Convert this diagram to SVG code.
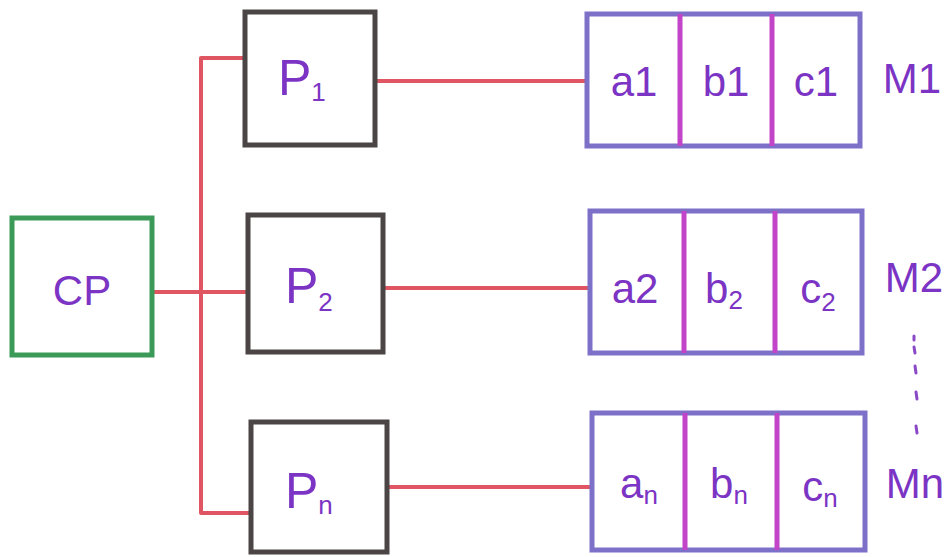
<svg xmlns="http://www.w3.org/2000/svg" width="947" height="557" viewBox="0 0 947 557">
  <style>
    .cp { fill: none; stroke: #3b9a58; stroke-width: 5; }
    .proc { fill: none; stroke: #4b4545; stroke-width: 5; }
    .mem { fill: none; stroke: #7d70c8; stroke-width: 5; }
    .div { stroke: #c244c8; stroke-width: 5; }
    .wire { fill: none; stroke: #e05562; stroke-width: 4; stroke-linecap: round; stroke-linejoin: round; }
    .lbl { font-family: "Liberation Sans", Arial, sans-serif; fill: #7b34c4; }
    .big { font-size: 42px; }
    .pl { font-size: 50px; }
    .cell { font-size: 42px; }
    .sub { font-size: 26px; }
    .dot { stroke: #8a4ac8; stroke-width: 3; stroke-linecap: round; }
  </style>

  <rect width="947" height="557" fill="#ffffff"/>

  <!-- connectors -->
  <g id="connectors">
    <path class="wire" d="M245 58 H201 V513 H251"/>
    <path class="wire" d="M152 292 H248"/>
    <path class="wire" d="M375 81 H587"/>
    <path class="wire" d="M383 288 H590"/>
    <path class="wire" d="M387 487 H592"/>
  </g>

  <!-- control processor -->
  <g id="cp">
    <rect class="cp" x="12" y="218" width="140" height="137"/>
    <text class="lbl big" x="82" y="305" text-anchor="middle">CP</text>
  </g>

  <!-- processors -->
  <g id="p1">
    <rect class="proc" x="245" y="12" width="130" height="133"/>
    <text class="lbl pl" x="278" y="95">P<tspan class="sub" dy="6">1</tspan></text>
  </g>
  <g id="p2">
    <rect class="proc" x="248" y="215" width="135" height="137"/>
    <text class="lbl pl" x="285" y="303">P<tspan class="sub" dy="8">2</tspan></text>
  </g>
  <g id="pn">
    <rect class="proc" x="251" y="422" width="136" height="130"/>
    <text class="lbl pl" x="285" y="508">P<tspan class="sub" dy="6">n</tspan></text>
  </g>

  <!-- memory modules -->
  <g id="m1">
    <rect class="mem" x="587" y="14" width="273" height="132"/>
    <line class="div" x1="680" y1="14" x2="680" y2="146"/>
    <line class="div" x1="772" y1="14" x2="772" y2="146"/>
    <text class="lbl cell" x="634" y="96" text-anchor="middle">a1</text>
    <text class="lbl cell" x="726" y="96" text-anchor="middle">b1</text>
    <text class="lbl cell" x="816" y="96" text-anchor="middle">c1</text>
    <text class="lbl big" x="912" y="93" text-anchor="middle">M1</text>
  </g>
  <g id="m2">
    <rect class="mem" x="590" y="211" width="272" height="142"/>
    <line class="div" x1="684" y1="211" x2="684" y2="353"/>
    <line class="div" x1="775" y1="211" x2="775" y2="353"/>
    <text class="lbl cell" x="635" y="303" text-anchor="middle">a2</text>
    <text class="lbl cell" x="724" y="303" text-anchor="middle">b<tspan class="sub" dy="6">2</tspan></text>
    <text class="lbl cell" x="818" y="303" text-anchor="middle">c<tspan class="sub" dy="8">2</tspan></text>
    <text class="lbl big" x="914" y="292" text-anchor="middle">M2</text>
  </g>
  <g id="mn">
    <rect class="mem" x="592" y="413" width="273" height="137"/>
    <line class="div" x1="685" y1="413" x2="685" y2="550"/>
    <line class="div" x1="777" y1="413" x2="777" y2="550"/>
    <text class="lbl cell" x="639" y="498" text-anchor="middle">a<tspan class="sub" dy="6">n</tspan></text>
    <text class="lbl cell" x="729" y="498" text-anchor="middle">b<tspan class="sub" dy="6">n</tspan></text>
    <text class="lbl cell" x="820" y="501" text-anchor="middle">c<tspan class="sub" dy="6">n</tspan></text>
    <text class="lbl big" x="915" y="498" text-anchor="middle">Mn</text>
  </g>

  <!-- ellipsis between M2 and Mn -->
  <g id="ellipsis">
    <line class="dot" x1="914" y1="336" x2="914" y2="340"/>
    <line class="dot" x1="914" y1="347" x2="915" y2="353"/>
    <line class="dot" x1="915" y1="366" x2="916" y2="373"/>
    <line class="dot" x1="916" y1="392" x2="917" y2="399"/>
    <line class="dot" x1="916" y1="426" x2="917" y2="433"/>
  </g>
</svg>
